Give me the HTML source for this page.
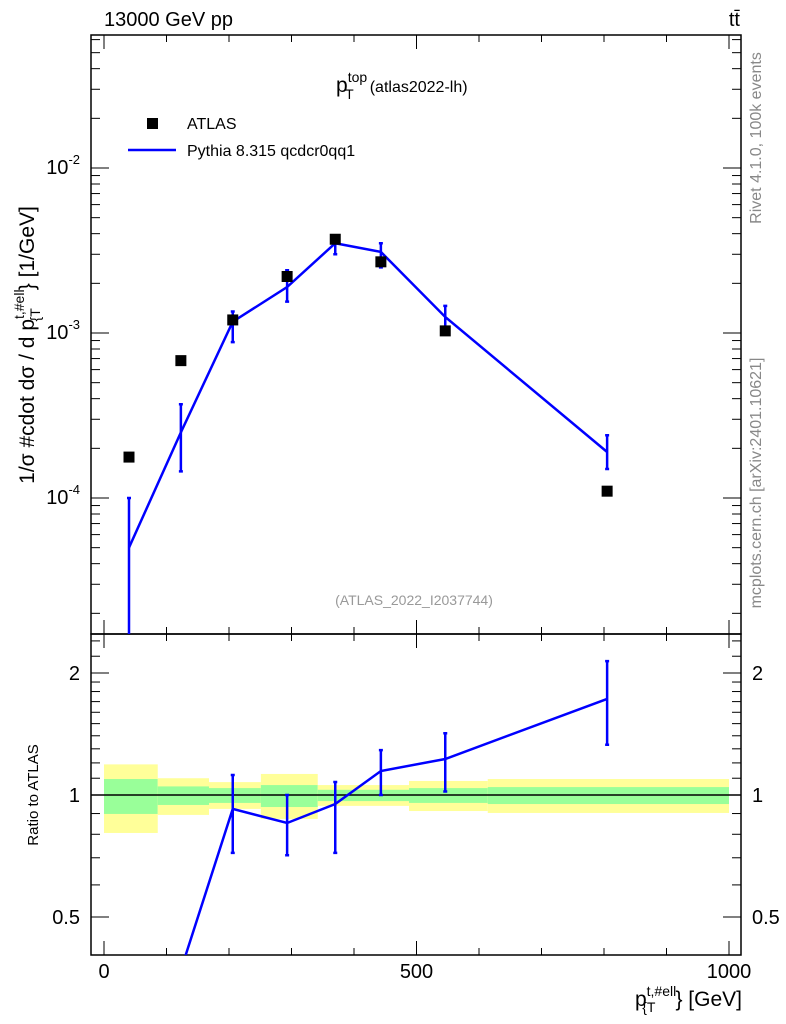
<!DOCTYPE html>
<html><head><meta charset="utf-8"><style>
html,body{margin:0;background:#fff;overflow:hidden;width:786px;height:1024px;}
svg{display:block;}
svg text{font-family:"Liberation Sans",sans-serif;}
</style></head><body>
<svg id="c" width="786" height="1024" xmlns="http://www.w3.org/2000/svg">
<text x="104" y="26" font-size="20">13000 GeV pp</text>
<text x="740" y="26" font-size="20" text-anchor="end">tt̄</text>
<text x="336" y="92" font-size="21">p<tspan font-size="14" dy="-10">top</tspan><tspan font-size="14" dx="-22" dy="17">T</tspan><tspan font-size="16" dx="16" dy="-7">(atlas2022-lh)</tspan></text>
<text x="414" y="605" font-size="14" fill="#999" text-anchor="middle">(ATLAS_2022_I2037744)</text>
<text transform="translate(761,138) rotate(-90)" font-size="16" fill="#888" text-anchor="middle">Rivet 4.1.0,  100k events</text>
<text transform="translate(761,483) rotate(-90)" font-size="16" fill="#888" text-anchor="middle">mcplots.cern.ch [arXiv:2401.10621]</text>
<text transform="translate(34,345) rotate(-90)" font-size="21" text-anchor="middle">1/σ #cdot dσ / d p<tspan font-size="14" dy="-10">t,#ell</tspan><tspan font-size="14" dy="16" dx="-32">{T</tspan><tspan dy="-6" dx="18">} [1/GeV]</tspan></text>
<text transform="translate(38,795) rotate(-90)" font-size="15" text-anchor="middle">Ratio to ATLAS</text>
<text x="742" y="1006" font-size="21" text-anchor="end">p<tspan font-size="14" dy="-10">t,#ell</tspan><tspan font-size="14" dy="16" dx="-34">{T</tspan><tspan dy="-6" dx="20">} [GeV]</tspan></text>
<g id="legend">
<rect x="147" y="118" width="11" height="11" fill="#000"/>
<text x="187" y="129" font-size="16">ATLAS</text>
<line x1="128" y1="150" x2="176" y2="150" stroke="#00f" stroke-width="2.5"/>
<text x="187" y="156" font-size="16">Pythia 8.315 qcdcr0qq1</text>
</g>
<g id="g"></g>
</svg>
<script>
const xs=[40,123,206,293,370,443,546,805];
const dataV=[1.77e-4,6.8e-4,1.2e-3,2.2e-3,3.7e-3,2.7e-3,1.03e-3,1.1e-4];
const mcV=[5.0e-5,2.5e-4,1.17e-3,1.9e-3,3.5e-3,3.1e-3,1.25e-3,1.9e-4];
const mcUp=[1.0e-4,3.7e-4,1.35e-3,2.4e-3,3.9e-3,3.5e-3,1.46e-3,2.4e-4];
const mcDn=[1e-6,1.45e-4,8.8e-4,1.55e-3,3.0e-3,2.5e-3,9.8e-4,1.5e-4];
const ratioV=[0.28,0.37,0.924,0.853,0.95,1.146,1.227,1.726];
const ratioUp=[0.35,0.39,1.12,1.0,1.077,1.29,1.42,2.14];
const ratioDn=[0.1,0.2,0.72,0.71,0.72,1.0,1.02,1.33];
const binEdges=[0,86,168,251,342,488,614,1000];
const yelHi=[1.19,1.10,1.076,1.127,1.058,1.083,1.095];
const yelLo=[0.806,0.893,0.924,0.873,0.94,0.913,0.903];
const grnHi=[1.095,1.05,1.04,1.058,1.03,1.04,1.046];
const grnLo=[0.898,0.945,0.956,0.934,0.966,0.956,0.95];
const xTicks=[0,500,1000];
const yTicks=[-4,-3,-2];
const rTicks=[0.5,1,2];

const L=91,R=741,T=35,M=634,B=955;
const X=v=>104+v*0.625;
const Y=v=>168-(Math.log10(v)+2)*165;
const RY=v=>795-Math.log2(v)*122;
const g=document.getElementById('g');
const NS='http://www.w3.org/2000/svg';
function el(t,a,p){const e=document.createElementNS(NS,t);for(const k in a)e.setAttribute(k,a[k]);(p||g).appendChild(e);return e;}
const clipDefs=el('defs',{});
const c1=el('clipPath',{id:'cm'},clipDefs);el('rect',{x:L,y:T,width:R-L,height:M-T},c1);
const c2=el('clipPath',{id:'cr'},clipDefs);el('rect',{x:L,y:M,width:R-L,height:B-M},c2);
const bandG=el('g',{'clip-path':'url(#cr)'});
for(let i=0;i<yelHi.length;i++){
 const b=el('rect',{x:X(binEdges[i]),y:RY(yelHi[i]),width:X(binEdges[i+1])-X(binEdges[i]),height:RY(yelLo[i])-RY(yelHi[i]),fill:'#ffff99'},bandG);
 
 
 const gg=el('rect',{x:X(binEdges[i]),y:RY(grnHi[i]),width:X(binEdges[i+1])-X(binEdges[i]),height:RY(grnLo[i])-RY(grnHi[i]),fill:'#99ff99'},bandG);
 
 
}
el('line',{x1:L,x2:R,y1:RY(1),y2:RY(1),stroke:'#000','stroke-width':1.5});
for(const [a,b] of [[T,M],[M,B]]){const f=el('rect',{x:L,y:a,width:R-L,height:b-a,fill:'none',stroke:'#000','stroke-width':1.5});}
for(let v=0;v<=1000;v+=100){const maj=v%500===0;const l=maj?14:7;
 for(const [yb,yt] of [[M,T],[B,M]]){el('line',{x1:X(v),x2:X(v),y1:yb,y2:yb-l,stroke:'#000'});el('line',{x1:X(v),x2:X(v),y1:yt,y2:yt+l,stroke:'#000'});}}
xTicks.forEach(v=>{const t=el('text',{x:X(v),y:978,'font-size':20,'text-anchor':'middle'});t.textContent=v;});
for(let d=-5;d<=-1;d++)for(let m=1;m<10;m++){const v=m*Math.pow(10,d);const y=Y(v);if(y<T||y>M)continue;const l=m===1?18:9;
 el('line',{x1:L,x2:L+l,y1:y,y2:y,stroke:'#000'});el('line',{x1:R,x2:R-l,y1:y,y2:y,stroke:'#000'});}
yTicks.forEach(d=>{const t=el('text',{x:80,y:Y(Math.pow(10,d))+6,'font-size':20,'text-anchor':'end'});t.innerHTML='10<tspan font-size="13" dy="-10">'+d+'</tspan>';});
[0.5,0.6,0.7,0.8,0.9,1,1.1,1.2,1.3,1.4,1.5,1.6,1.7,1.8,1.9,2,2.2,2.4].forEach(v=>{const y=RY(v);if(y<M||y>B)return;const l=(v===0.5||v===1||v===2)?18:9;
 el('line',{x1:L,x2:L+l,y1:y,y2:y,stroke:'#000'});el('line',{x1:R,x2:R-l,y1:y,y2:y,stroke:'#000'});});
rTicks.forEach(v=>{for(const [x,a] of [[80,'end'],[752,'start']]){const t=el('text',{x:x,y:RY(v)+7,'font-size':20,'text-anchor':a});t.textContent=v;}});
const mg=el('g',{'clip-path':'url(#cm)'});
const ml=el('polyline',{points:xs.map((x,i)=>X(x)+','+Y(mcV[i])).join(' '),fill:'none',stroke:'#00f','stroke-width':2.5},mg);


xs.forEach((x,i)=>{const e=el('path',{d:`M${X(x)},${Y(mcUp[i])}V${Y(mcDn[i])}M${X(x)-2},${Y(mcUp[i])}h4M${X(x)-2},${Y(mcDn[i])}h4`,stroke:'#00f','stroke-width':2.5,fill:'none'},mg);
 
 });
xs.forEach((x,i)=>{const r=el('rect',{x:X(x)-5.5,y:Y(dataV[i])-5.5,width:11,height:11,fill:'#000'},mg);
 
 });
const rg=el('g',{'clip-path':'url(#cr)'});
const rl=el('polyline',{points:xs.map((x,i)=>X(x)+','+RY(ratioV[i])).join(' '),fill:'none',stroke:'#00f','stroke-width':2.5},rg);


xs.forEach((x,i)=>{const e=el('path',{d:`M${X(x)},${RY(ratioUp[i])}V${RY(ratioDn[i])}M${X(x)-2},${RY(ratioUp[i])}h4M${X(x)-2},${RY(ratioDn[i])}h4`,stroke:'#00f','stroke-width':2.5,fill:'none'},rg);
 
 });
</script>
</body></html>
